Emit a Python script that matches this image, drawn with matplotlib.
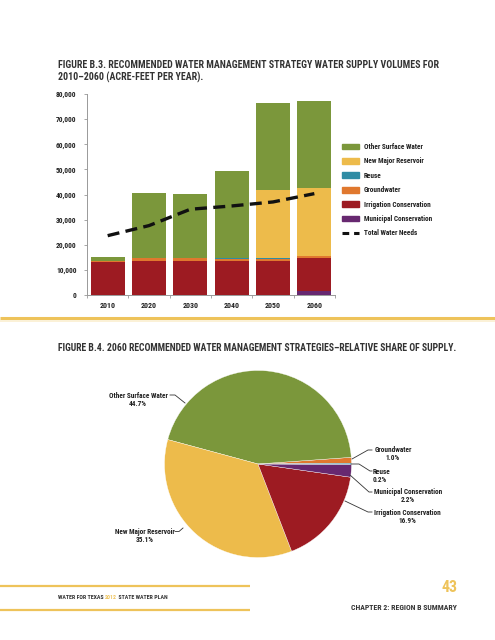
import matplotlib
matplotlib.use("Agg")
import matplotlib.pyplot as plt
import numpy as np
from matplotlib.lines import Line2D
from matplotlib import font_manager as fm

# ---------------- data ----------------
years = ['2010', '2020', '2030', '2040', '2050', '2060']
municipal = [0, 0, 0, 0, 0, 1700]
irrigation = [13300, 13800, 13800, 13800, 13800, 13050]
groundwater = [500, 900, 900, 700, 700, 770]
reuse = [0, 0, 0, 200, 200, 150]
new_reservoir = [0, 0, 0, 0, 27150, 27100]
other_surface = [1400, 26000, 25400, 34700, 34570, 34500]
total_needs = [23700, 27700, 34200, 35500, 37100, 40400]

y_ticks = [0, 10000, 20000, 30000, 40000, 50000, 60000, 70000, 80000]

pie_labels = ['Groundwater', 'Other Surface Water', 'New Major Reservoir',
              'Irrigation Conservation', 'Municipal Conservation', 'Reuse']
pie_shares = [1.0, 44.7, 35.1, 16.9, 2.2, 0.2]

# ---------------- fonts ----------------
_names = {f.name for f in fm.fontManager.ttflist}
def pick(cands, default='DejaVu Sans'):
    for c in cands:
        if c in _names:
            return c
    return default

FONT = pick(['Roboto Condensed', 'Archivo Narrow', 'Barlow Semi Condensed',
             'Barlow Condensed', 'Asap Condensed', 'Liberation Sans Narrow'])
plt.rcParams['font.family'] = [FONT, 'DejaVu Sans']
plt.rcParams['font.weight'] = 'bold'

# ---------------- style ----------------
C_OTHER = '#7B973B'
C_RES = '#EDBB4B'
C_REUSE = '#2F8CA4'
C_GW = '#E0782E'
C_IRR = '#9D1B22'
C_MUN = '#672870'
C_GOLD = '#EEC35A'
C_TXT = '#333333'

W, H = 495, 640
fig = plt.figure(figsize=(W / 100, H / 100), dpi=100)
fig.patch.set_facecolor('white')
renderer = fig.canvas.get_renderer()

def fit_size(s, target_px, weight='bold'):
    t = fig.text(0, 0, s, fontsize=10, fontweight=weight)
    w = t.get_window_extent(renderer=renderer).width
    t.remove()
    return 10 * target_px / w

def fx(px):
    return px / W

def fy(py):
    return 1 - py / H

fs_title = fit_size('FIGURE B.3. RECOMMENDED WATER MANAGEMENT STRATEGY WATER SUPPLY VOLUMES FOR', 377)
fs_title2 = fit_size('FIGURE B.4. 2060 RECOMMENDED WATER MANAGEMENT STRATEGIES\u2013RELATIVE SHARE OF SUPPLY.', 399)
fs_leg = fit_size('Other Surface Water', 59)
fs_ytick = fit_size('80,000', 20.5)
fs_xtick = fit_size('2010', 16)
fs_foot = fit_size('WATER FOR TEXAS 2012 STATE WATER PLAN', 109)
fs_chap = fit_size('CHAPTER 2: REGION B SUMMARY', 105)
fs_num = 11.5

# ---------------- bar chart ----------------
ax = fig.add_axes([fx(87), fy(295.3), fx(335) - fx(87), fy(94) - fy(295.3)])
x = np.arange(len(years))
bw = 0.82
series = [(municipal, C_MUN), (irrigation, C_IRR), (groundwater, C_GW),
          (reuse, C_REUSE), (new_reservoir, C_RES), (other_surface, C_OTHER)]
bottom = np.zeros(len(years))
for vals, col in series:
    v = np.array(vals, dtype=float)
    ax.bar(x, v, bw, bottom=bottom, color=col, edgecolor='none', zorder=2)
    bottom += v
ax.plot(x, total_needs, color='#111111', lw=2.4, dashes=(3.6, 1.9), zorder=3,
        dash_capstyle='butt')

ax.set_xlim(-0.5, len(years) - 0.5)
ax.set_ylim(0, 80000)
ax.set_yticks(y_ticks)
ax.set_yticklabels([f'{t:,}' for t in y_ticks], fontsize=fs_ytick, color='#222222',
                   fontweight='bold')
ax.set_xticks(x)
ax.set_xticklabels(years, fontsize=fs_xtick, color='#222222', fontweight='bold')
ax.set_xticks(np.arange(len(years) + 1) - 0.5, minor=True)
ax.tick_params(axis='x', which='major', length=0, pad=4.5)
ax.tick_params(axis='x', which='minor', length=2.5, color='#999999', width=0.6)
ax.tick_params(axis='y', length=2.5, color='#999999', width=0.6, pad=5)
for s in ['top', 'right']:
    ax.spines[s].set_visible(False)
for s in ['left', 'bottom']:
    ax.spines[s].set_color('#999999')
    ax.spines[s].set_linewidth(0.7)
ax.set_facecolor('white')

# legend
leg_items = [('Other Surface Water', C_OTHER), ('New Major Reservoir', C_RES),
             ('Reuse', C_REUSE), ('Groundwater', C_GW),
             ('Irrigation Conservation', C_IRR), ('Municipal Conservation', C_MUN)]
handles = [plt.Rectangle((0, 0), 1, 1, color=c) for _, c in leg_items]
handles.append(Line2D([0], [0], color='#111111', lw=2.2, dashes=(2.2, 1.6)))
labels = [l for l, _ in leg_items] + ['Total Water Needs']
fs_px = fs_leg * 100 / 72
fig.legend(handles, labels, loc='upper left', bbox_to_anchor=(fx(337), fy(138)),
           frameon=False, fontsize=fs_leg, handlelength=17 / fs_px,
           handleheight=6 / fs_px, labelspacing=(14.4 - fs_px * 1.1) / fs_px,
           handletextpad=5 / fs_px, borderpad=0.2, labelcolor='#222222')

# ---------------- overlay for page decoration ----------------
ov = fig.add_axes([0, 0, 1, 1], zorder=-1)
ov.set_xlim(0, W)
ov.set_ylim(H, 0)
ov.axis('off')

ov.text(58, 65.5, 'FIGURE B.3. RECOMMENDED WATER MANAGEMENT STRATEGY WATER SUPPLY VOLUMES FOR',
        fontsize=fs_title, color=C_TXT, va='center', ha='left', fontweight='bold')
ov.text(58, 77.5, '2010\u20132060 (ACRE-FEET PER YEAR).',
        fontsize=fs_title, color=C_TXT, va='center', ha='left', fontweight='bold')

ov.plot([0, W], [318, 318], color=C_GOLD, lw=2.2, solid_capstyle='butt')
ov.plot([0, W], [320.5, 320.5], color='#FBEFD0', lw=1.2, solid_capstyle='butt')

ov.text(58, 348, 'FIGURE B.4. 2060 RECOMMENDED WATER MANAGEMENT STRATEGIES\u2013RELATIVE SHARE OF SUPPLY.',
        fontsize=fs_title2, color=C_TXT, va='center', ha='left', fontweight='bold')

# footer
ov.plot([0, 250], [585.5, 585.5], color=C_GOLD, lw=1.6, solid_capstyle='butt')
ov.plot([0, 250], [609.5, 609.5], color=C_GOLD, lw=1.6, solid_capstyle='butt')
inv = ov.transData.inverted()
xcur = 58
for part, col in [('WATER FOR TEXAS ', C_TXT), ('2012', C_GOLD), (' STATE WATER PLAN', C_TXT)]:
    t = ov.text(xcur, 597.5, part, fontsize=fs_foot, color=col, va='center',
                ha='left', fontweight='bold')
    bb = t.get_window_extent(renderer=renderer)
    xcur = inv.transform((bb.x1, bb.y0))[0]
ov.text(457.5, 588, '43', fontsize=fs_num, color=C_GOLD, va='center', ha='right',
        fontweight='bold')
ov.text(457, 607, 'CHAPTER 2: REGION B SUMMARY', fontsize=fs_chap, color=C_TXT,
        va='center', ha='right', fontweight='bold')

# ---------------- pie ----------------
cx, cy, r = 258, 464, 93.5
axp = fig.add_axes([fx(cx - r), fy(cy + r), 2 * r / W, 2 * r / H])
pie_colors = [C_GW, C_OTHER, C_RES, C_IRR, C_MUN, C_REUSE]
axp.pie(pie_shares, colors=pie_colors, startangle=0.5, counterclock=True,
        radius=1, wedgeprops=dict(edgecolor='white', linewidth=0.25))
axp.set_xlim(-1, 1)
axp.set_ylim(-1, 1)
axp.set_aspect('auto')
axp.axis('off')

ov2 = fig.add_axes([0, 0, 1, 1], zorder=5)
ov2.set_xlim(0, W)
ov2.set_ylim(H, 0)
ov2.axis('off')
ov2.patch.set_alpha(0)

lab_fs = fs_leg
lc = '#333333'
lw = 0.6
def plabel(xc, y, name, val, ha='center'):
    ov2.text(xc, y, name, fontsize=lab_fs, ha=ha, va='center', color='#222222')
    ov2.text(xc, y + 8, f'{val:.1f}%', fontsize=lab_fs, ha=ha, va='center', color='#222222')

ov2.plot([170, 175, 185], [395, 395, 403], color=lc, lw=lw)
plabel(138, 395.5, pie_labels[1], pie_shares[1])
ov2.plot([175, 179, 183], [531.5, 531.5, 528], color=lc, lw=lw)
plabel(145, 531.5, pie_labels[2], pie_shares[2])
ov2.plot([352, 368, 372], [459, 450, 450], color=lc, lw=lw)
plabel(393, 450.5, pie_labels[0], pie_shares[0])
ov2.plot([351, 359, 370, 372], [464, 464, 471, 471], color=lc, lw=lw)
plabel(373, 471.5, pie_labels[5], pie_shares[5], ha='left')
ov2.plot([350, 369, 372], [475, 492, 492], color=lc, lw=lw)
plabel(408, 492.5, pie_labels[4], pie_shares[4])
ov2.plot([345, 368, 372], [501, 512, 512], color=lc, lw=lw)
plabel(407, 513, pie_labels[3], pie_shares[3])

fig.savefig('out.png', dpi=100, facecolor='white')
